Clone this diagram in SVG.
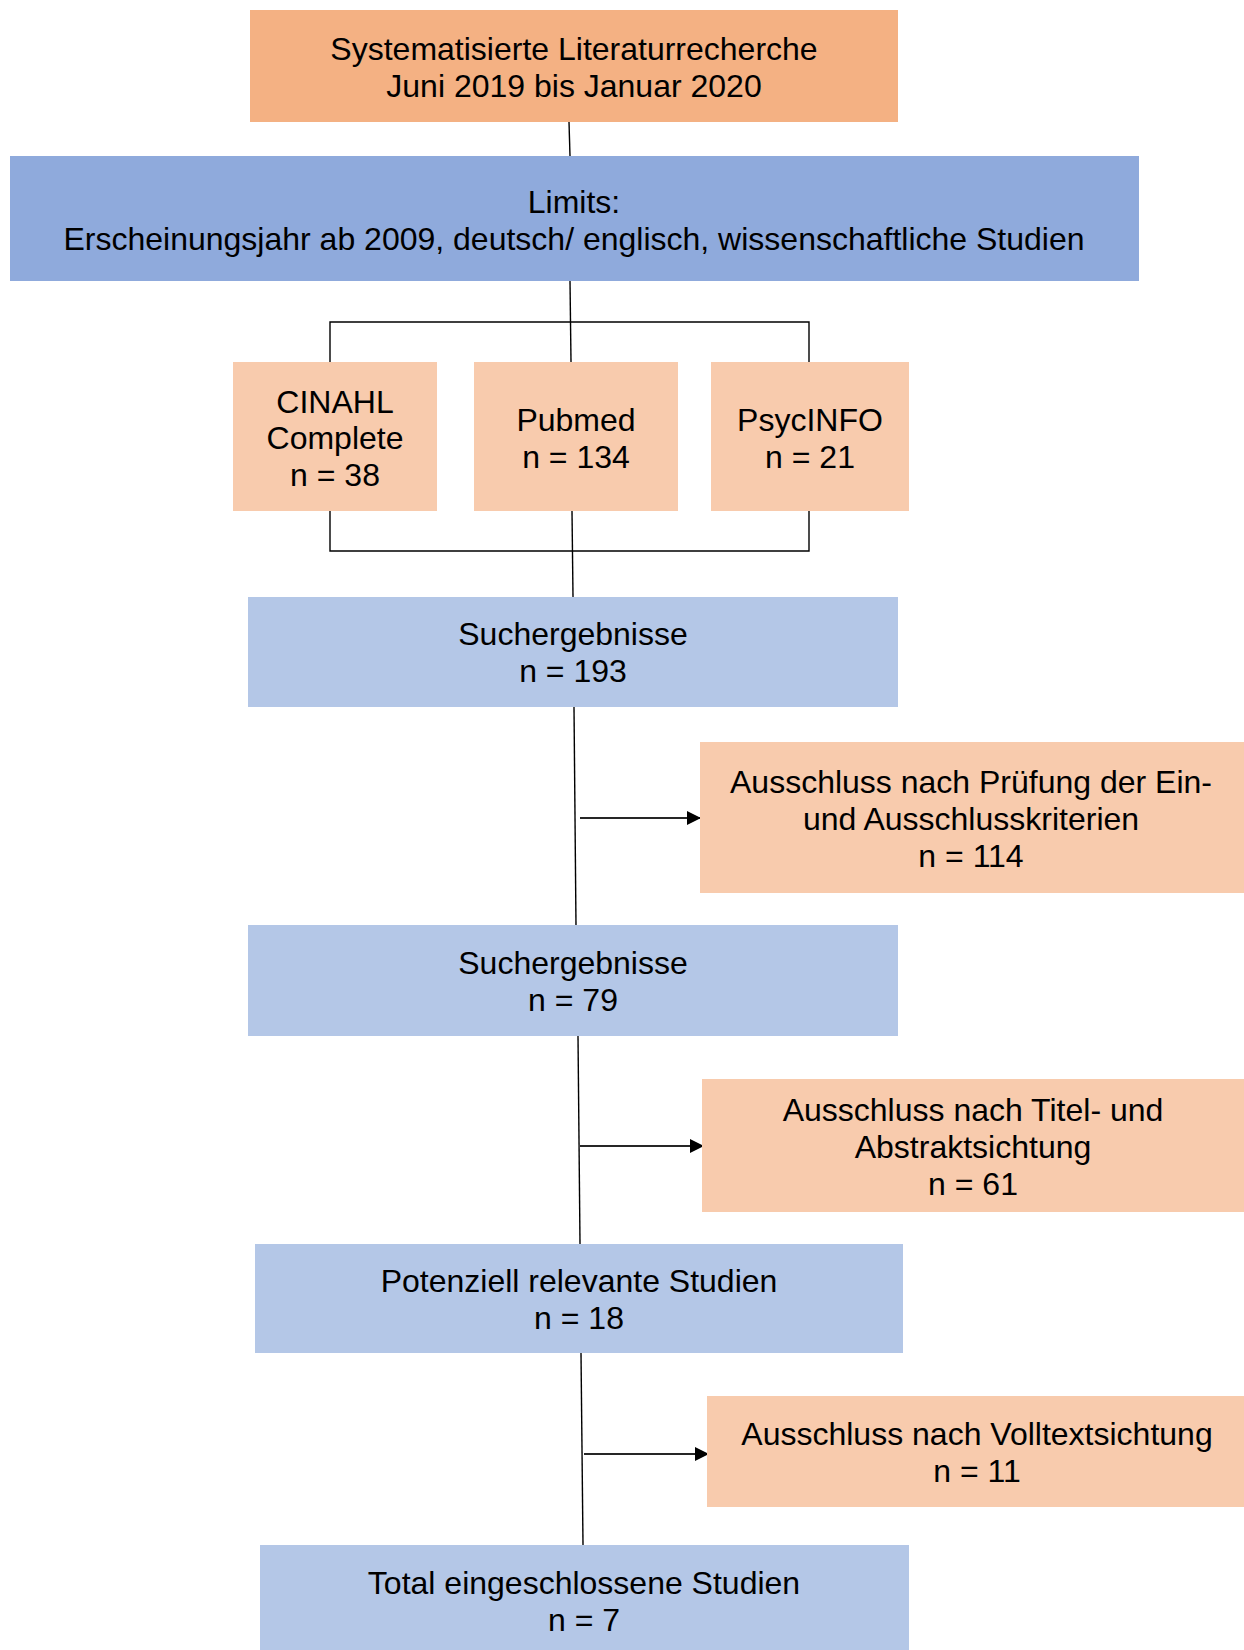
<svg xmlns="http://www.w3.org/2000/svg" width="1244" height="1650" viewBox="0 0 1244 1650">
<defs>
<style>
text{font-family:"Liberation Sans",Arial,sans-serif;font-size:32px;fill:#000;text-anchor:middle}
.orange{fill:#F4B183}
.lblue{fill:#B4C7E7}
.mblue{fill:#8FAADC}
.peach{fill:#F8CBAD}
.ln{stroke:#000;stroke-width:1.4;fill:none}
.arr{stroke:#262626;stroke-width:2;fill:none}
</style>
<marker id="ah" viewBox="0 0 10 10" refX="10" refY="5" markerWidth="14" markerHeight="14" markerUnits="userSpaceOnUse" orient="auto">
<path d="M0,0 L10,5 L0,10 Z" fill="#000"/>
</marker>
</defs>
<rect width="1244" height="1650" fill="#fff"/>
<g id="connectors">
<line class="ln" x1="569" y1="122" x2="570" y2="156"/>
<line class="ln" x1="570" y1="281" x2="571" y2="362"/>
<polyline class="ln" points="330,362 330,322 809,322 809,362"/>
<polyline class="ln" points="330,511 330,551 809,551 809,511"/>
<line class="ln" x1="572" y1="511" x2="573" y2="597"/>
<line class="ln" x1="574" y1="707" x2="576" y2="925"/>
<line class="arr" x1="580" y1="818" x2="701" y2="818" marker-end="url(#ah)"/>
<line class="ln" x1="578" y1="1036" x2="580" y2="1244"/>
<line class="arr" x1="580" y1="1146" x2="704" y2="1146" marker-end="url(#ah)"/>
<line class="ln" x1="581" y1="1353" x2="583" y2="1545"/>
<line class="arr" x1="584" y1="1454" x2="709" y2="1454" marker-end="url(#ah)"/>
</g>
<g id="n_top"><rect class="orange" x="250" y="10" width="648" height="112"/>
<text x="574" y="60">Systematisierte Literaturrecherche</text><text x="574" y="97">Juni 2019 bis Januar 2020</text></g>
<g id="n_limits"><rect class="mblue" x="10" y="156" width="1129" height="125"/>
<text x="574" y="213">Limits:</text><text x="574" y="250">Erscheinungsjahr ab 2009, deutsch/ englisch, wissenschaftliche Studien</text></g>
<g id="n_cinahl"><rect class="peach" x="233" y="362" width="204" height="149"/>
<text x="335" y="413">CINAHL</text><text x="335" y="449">Complete</text><text x="335" y="486">n = 38</text></g>
<g id="n_pubmed"><rect class="peach" x="474" y="362" width="204" height="149"/>
<text x="576" y="431">Pubmed</text><text x="576" y="468">n = 134</text></g>
<g id="n_psyc"><rect class="peach" x="711" y="362" width="198" height="149"/>
<text x="810" y="431">PsycINFO</text><text x="810" y="468">n = 21</text></g>
<g id="n_such1"><rect class="lblue" x="248" y="597" width="650" height="110"/>
<text x="573" y="645">Suchergebnisse</text><text x="573" y="682">n = 193</text></g>
<g id="n_aus1"><rect class="peach" x="700" y="742" width="544" height="151"/>
<text x="971" y="793">Ausschluss nach Prüfung der Ein-</text><text x="971" y="830">und Ausschlusskriterien</text><text x="971" y="867">n = 114</text></g>
<g id="n_such2"><rect class="lblue" x="248" y="925" width="650" height="111"/>
<text x="573" y="974">Suchergebnisse</text><text x="573" y="1011">n = 79</text></g>
<g id="n_aus2"><rect class="peach" x="702" y="1079" width="542" height="133"/>
<text x="973" y="1121">Ausschluss nach Titel- und</text><text x="973" y="1158">Abstraktsichtung</text><text x="973" y="1195">n = 61</text></g>
<g id="n_pot"><rect class="lblue" x="255" y="1244" width="648" height="109"/>
<text x="579" y="1292">Potenziell relevante Studien</text><text x="579" y="1329">n = 18</text></g>
<g id="n_aus3"><rect class="peach" x="707" y="1396" width="537" height="111"/>
<text x="977" y="1445">Ausschluss nach Volltextsichtung</text><text x="977" y="1482">n = 11</text></g>
<g id="n_total"><rect class="lblue" x="260" y="1545" width="649" height="105"/>
<text x="584" y="1594">Total eingeschlossene Studien</text><text x="584" y="1631">n = 7</text></g>
</svg>
